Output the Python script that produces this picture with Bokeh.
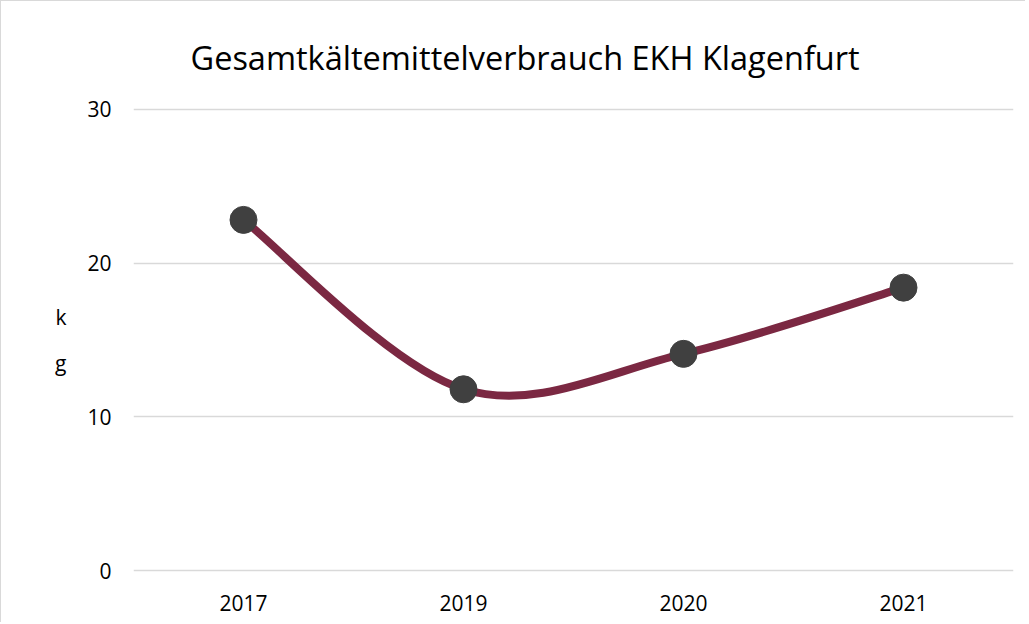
from bokeh.plotting import figure
from bokeh.models import FixedTicker
from bokeh.embed import file_html
from bokeh.resources import INLINE

# ---- data ----
categories = ["2017", "2019", "2020", "2021"]
values = [22.8, 11.8, 14.1, 18.4]
y_ticks = [0, 10, 20, 30]
title_text = "Gesamtkältemittelverbrauch EKH Klagenfurt"
y_label = "k\ng"

FONT = "Open Sans"
LINE_COLOR = "#7B2842"
MARKER_COLOR = "#404040"
GRID_COLOR = "#d9d9d9"

xs = list(range(len(categories)))

p = figure(
    frame_width=880, frame_height=465,
    x_range=(-0.5, len(categories) - 0.5), y_range=(-0.1, 30.1),
    output_backend="svg", toolbar_location=None,
    min_border_left=132, min_border_right=12, min_border_top=106, min_border_bottom=50,
    title=title_text,
)
p.styles = {"border-left": "1px solid #d9d9d9", "border-top": "1px solid #d9d9d9"}

p.title.align = "left"
p.title.offset = 57
p.title.text_font = FONT
p.title.text_font_size = "32.5px"
p.title.text_font_style = "normal"
p.title.text_color = "#000000"
p.title.standoff = 56

p.outline_line_color = None
p.background_fill_color = "white"
p.border_fill_color = "white"

# axes
p.xaxis.ticker = FixedTicker(ticks=xs)
p.xaxis.major_label_overrides = {i: c for i, c in enumerate(categories)}
p.yaxis.ticker = FixedTicker(ticks=y_ticks)
for ax in (p.xaxis[0], p.yaxis[0]):
    ax.axis_line_color = None
    ax.major_tick_line_color = None
    ax.minor_tick_line_color = None
    ax.major_label_text_font = FONT
    ax.major_label_text_font_size = "21px"
    ax.major_label_text_color = "#000000"
p.xaxis.major_label_standoff = 16
p.yaxis.major_label_standoff = 16

p.yaxis.axis_label = y_label
p.yaxis.axis_label_orientation = "horizontal"
p.yaxis.axis_label_text_font = FONT
p.yaxis.axis_label_text_font_size = "21px"
p.yaxis.axis_label_text_font_style = "normal"
p.yaxis.axis_label_text_color = "#000000"
p.yaxis.axis_label_text_line_height = 1.65
p.yaxis.axis_label_standoff = 18

p.xgrid.grid_line_color = None
p.ygrid.ticker = FixedTicker(ticks=y_ticks)
p.ygrid.grid_line_color = GRID_COLOR
p.ygrid.grid_line_width = 1.5

# smoothed line (Catmull-Rom style Bezier through the data points)
n = len(values)
x0, y0, x1, y1, cx0, cy0, cx1, cy1 = [], [], [], [], [], [], [], []
for i in range(n - 1):
    pm = i - 1 if i > 0 else i
    pp = i + 2 if i + 2 < n else i + 1
    x0.append(xs[i]); y0.append(values[i])
    x1.append(xs[i + 1]); y1.append(values[i + 1])
    cx0.append(xs[i] + (xs[i + 1] - xs[pm]) / 6)
    cy0.append(values[i] + (values[i + 1] - values[pm]) / 6)
    cx1.append(xs[i + 1] - (xs[pp] - xs[i]) / 6)
    cy1.append(values[i + 1] - (values[pp] - values[i]) / 6)

p.bezier(x0=x0, y0=y0, x1=x1, y1=y1, cx0=cx0, cy0=cy0, cx1=cx1, cy1=cy1,
         line_color=LINE_COLOR, line_width=8, line_cap="round")

p.scatter(xs, values, size=27, fill_color=MARKER_COLOR, line_color=MARKER_COLOR)

open("out.html", "w").write(file_html(p, INLINE))
